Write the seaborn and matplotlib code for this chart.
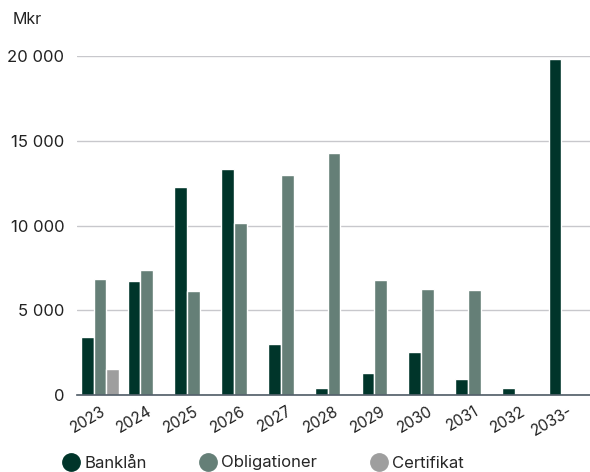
import matplotlib
matplotlib.use("Agg")
import matplotlib.pyplot as plt
import seaborn as sns
import pandas as pd
import numpy as np
from matplotlib.lines import Line2D
from matplotlib.ticker import FuncFormatter

years = ["2023", "2024", "2025", "2026", "2027", "2028", "2029", "2030", "2031", "2032", "2033-"]
banklan = [3400, 6750, 12250, 13370, 3030, 410, 1300, 2540, 950, 410, 19820]
obligationer = [6850, 7400, 6150, 10180, 13000, 14260, 6800, 6270, 6210, np.nan, np.nan]
certifikat = [1550, np.nan, np.nan, np.nan, np.nan, np.nan, np.nan, np.nan, np.nan, np.nan, np.nan]
series_names = ["Banklån", "Obligationer", "Certifikat"]
colors = ["#00352a", "#657f77", "#9e9e9e"]

rows = []
for name, vals in zip(series_names, [banklan, obligationer, certifikat]):
    for y, v in zip(years, vals):
        rows.append({"year": y, "serie": name, "value": v})
df = pd.DataFrame(rows)

sns.set_theme(style="white")
plt.rcParams["font.family"] = ["Inter", "DejaVu Sans"]

fig = plt.figure(figsize=(5.9, 4.72), dpi=100)
ax = fig.add_axes([0.130, 0.163, 0.872, 0.718])

sns.barplot(data=df, x="year", y="value", hue="serie", order=years,
            hue_order=series_names, palette=colors, width=0.82,
            saturation=1, ax=ax, legend=False, errorbar=None)

ax.set_ylim(0, 20000)
ax.set_yticks([0, 5000, 10000, 15000, 20000])
ax.yaxis.set_major_formatter(FuncFormatter(lambda v, p: f"{int(v):,}".replace(",", " ")))
ax.grid(axis="y", color="#c8c8cc", linewidth=1)
ax.set_axisbelow(True)
for s in ["top", "right", "left"]:
    ax.spines[s].set_visible(False)
ax.spines["bottom"].set_color("#4f5b66")
ax.spines["bottom"].set_linewidth(1.2)
ax.set_xlabel("")
ax.set_ylabel("")
ax.tick_params(axis="y", length=0, pad=9, labelsize=12, labelcolor="#222222")
ax.tick_params(axis="x", length=0, pad=6, labelsize=11, labelcolor="#222222")
for lbl in ax.get_xticklabels():
    lbl.set_rotation(30)
    lbl.set_ha("right")
    lbl.set_rotation_mode("anchor")
ax.set_xlim(-0.5, len(years) - 0.5)

fig.text(13 / 590, 1 - 20 / 472, "Mkr", fontsize=11.5, color="#222222", va="center", ha="left")

handles = [Line2D([0], [0], marker="o", linestyle="", markersize=12.5,
                  markerfacecolor=c, markeredgecolor=c) for c in colors]
fig.legend(handles, series_names, loc="center left", bbox_to_anchor=(54 / 590, 1 - 463 / 472),
           ncol=3, frameon=False, fontsize=12, handletextpad=0.2, columnspacing=3.1,
           borderaxespad=0, handlelength=1.2)

fig.savefig("out.png", dpi=100)
